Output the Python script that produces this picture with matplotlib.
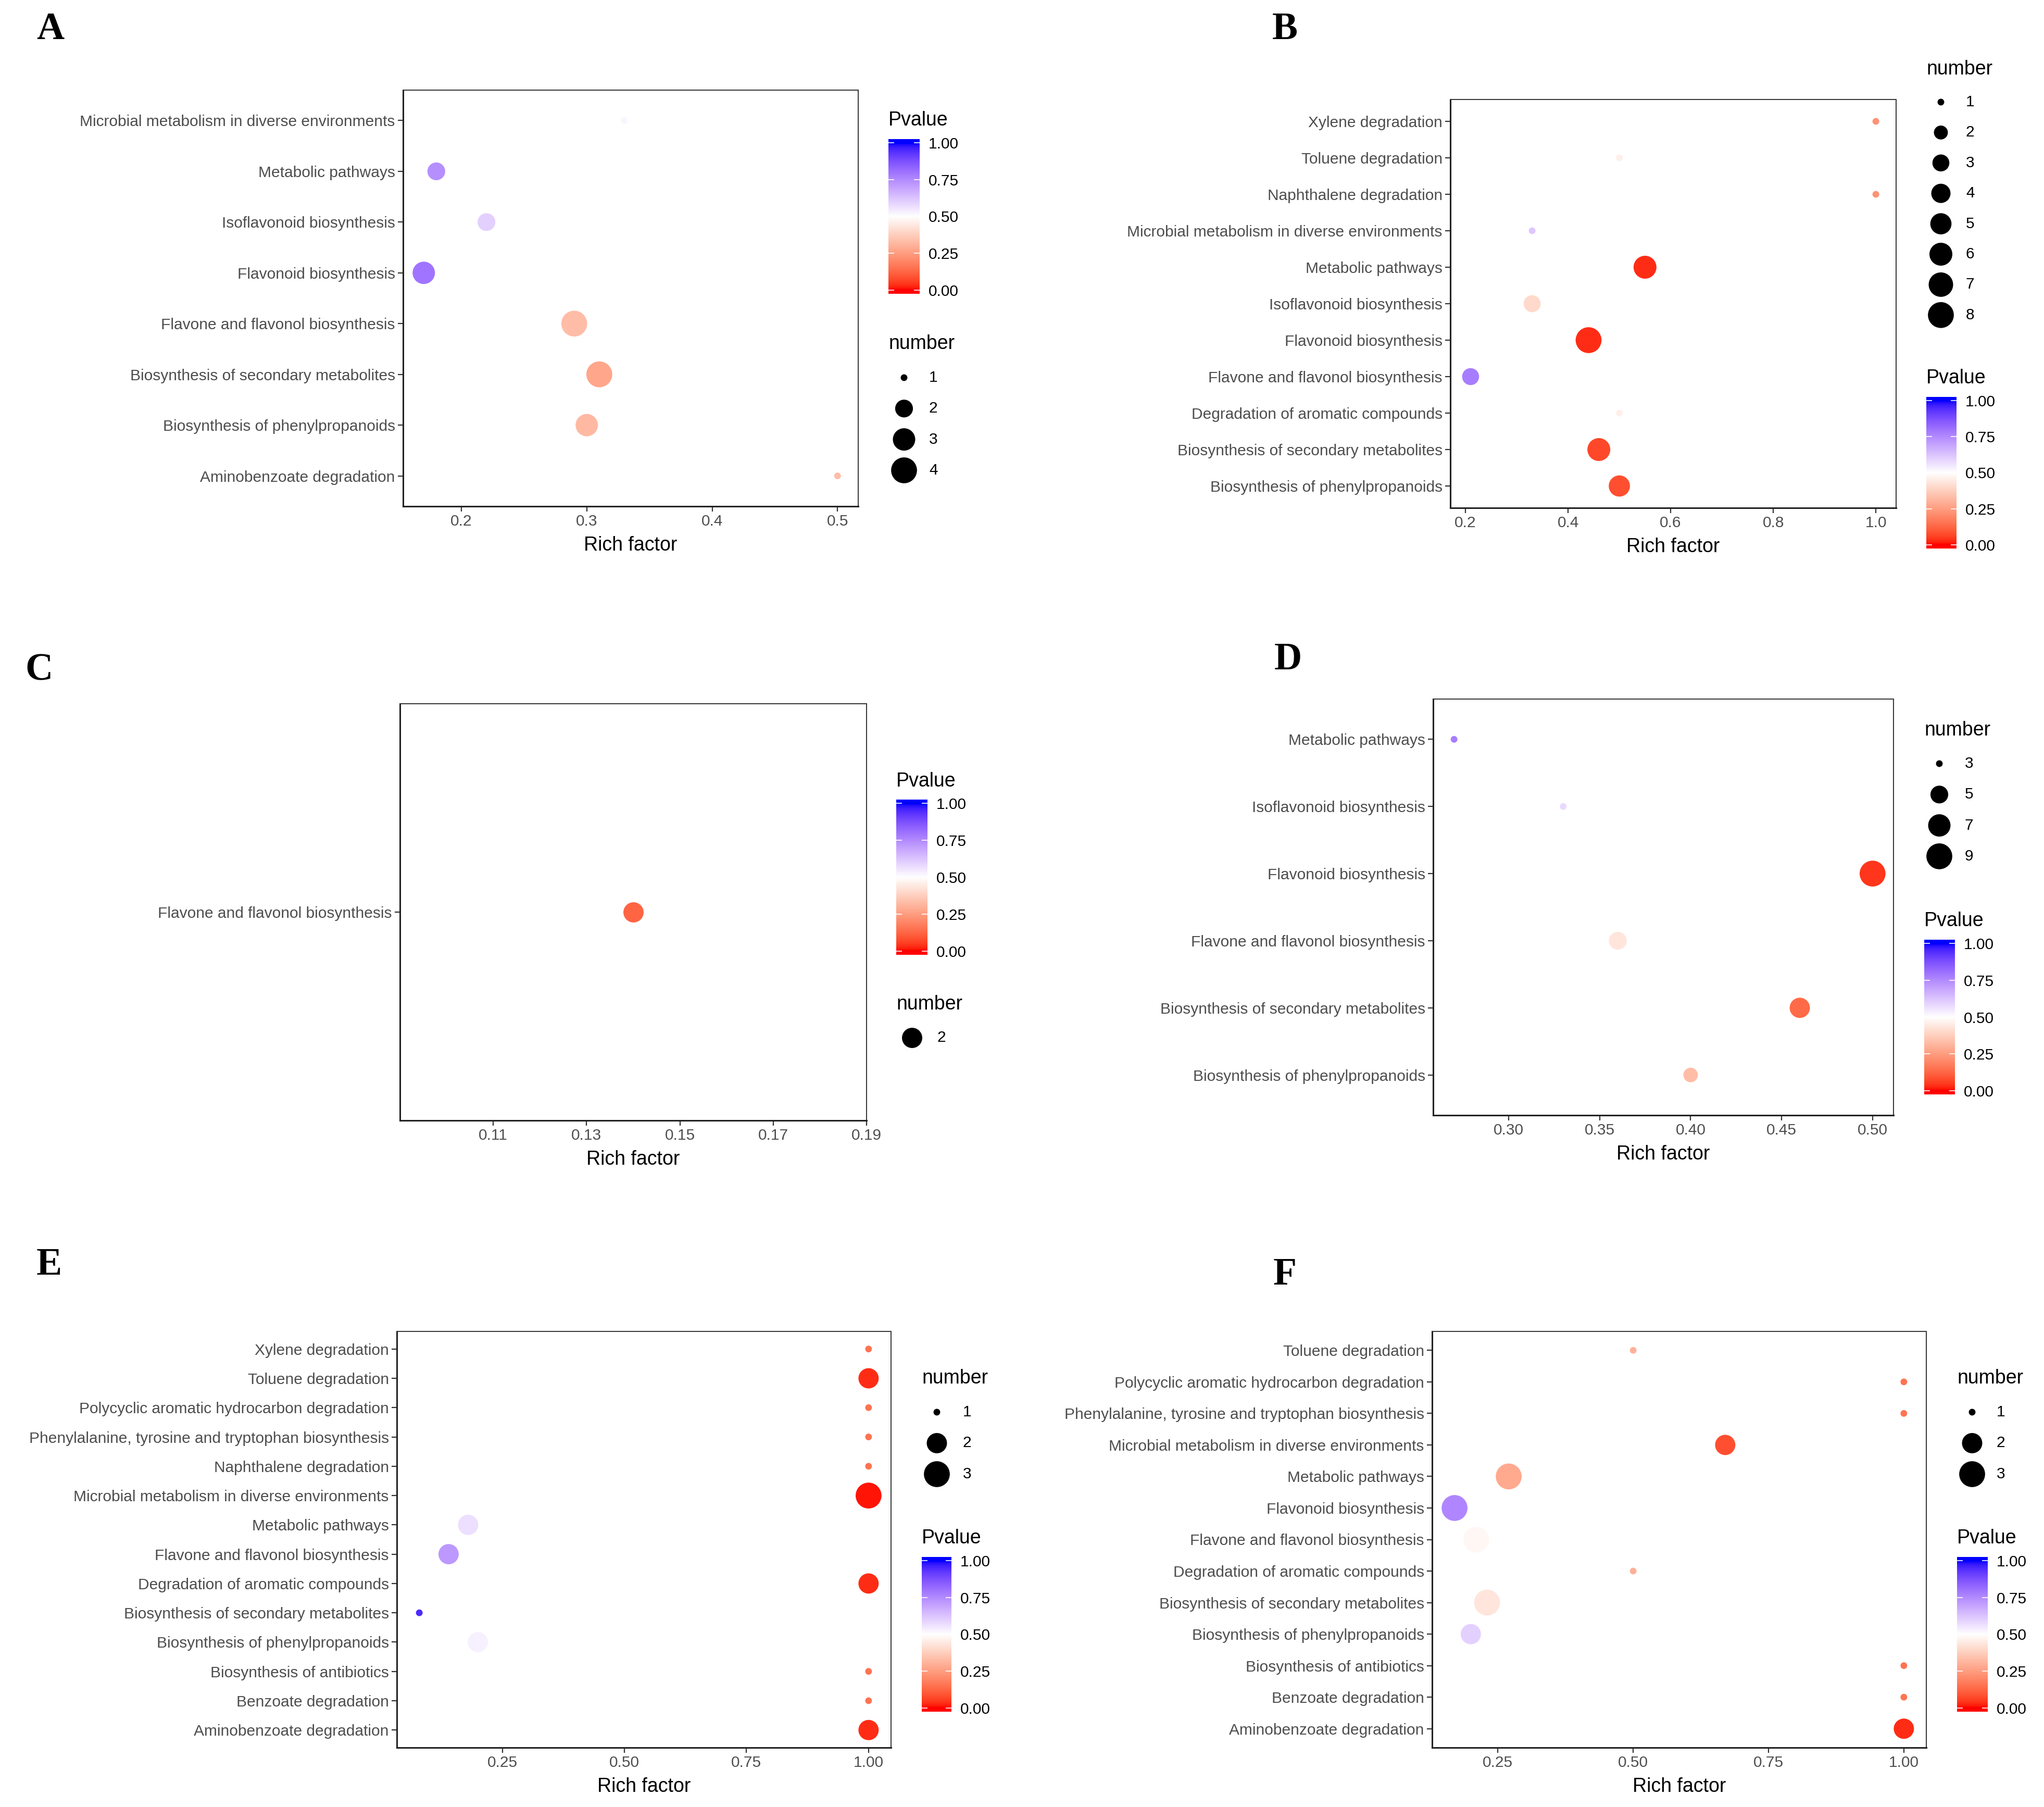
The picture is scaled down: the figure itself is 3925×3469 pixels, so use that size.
import numpy as np
import matplotlib
matplotlib.use("Agg")
import matplotlib.pyplot as plt
from matplotlib.colors import ListedColormap, Normalize

plt.rcParams['font.family'] = ['Liberation Sans', 'DejaVu Sans']

# ---------------- data ----------------
a_terms = ["Microbial metabolism in diverse environments", "Metabolic pathways",
           "Isoflavonoid biosynthesis", "Flavonoid biosynthesis",
           "Flavone and flavonol biosynthesis", "Biosynthesis of secondary metabolites",
           "Biosynthesis of phenylpropanoids", "Aminobenzoate degradation"]
a_rich = [0.33, 0.18, 0.22, 0.17, 0.29, 0.31, 0.30, 0.50]
a_pval = [0.52, 0.74, 0.60, 0.80, 0.33, 0.27, 0.32, 0.33]
a_num = [1, 2, 2, 3, 4, 4, 3, 1]
a_xticks = [0.2, 0.3, 0.4, 0.5]
a_xticklabels = ["0.2", "0.3", "0.4", "0.5"]
a_num_breaks = [1, 2, 3, 4]

b_terms = ["Xylene degradation", "Toluene degradation", "Naphthalene degradation",
           "Microbial metabolism in diverse environments", "Metabolic pathways",
           "Isoflavonoid biosynthesis", "Flavonoid biosynthesis",
           "Flavone and flavonol biosynthesis", "Degradation of aromatic compounds",
           "Biosynthesis of secondary metabolites", "Biosynthesis of phenylpropanoids"]
b_rich = [1.00, 0.50, 1.00, 0.33, 0.55, 0.33, 0.44, 0.21, 0.50, 0.46, 0.50]
b_pval = [0.22, 0.46, 0.22, 0.62, 0.03, 0.40, 0.03, 0.78, 0.46, 0.07, 0.08]
b_num = [1, 1, 1, 1, 6, 3, 8, 3, 1, 6, 5]
b_xticks = [0.2, 0.4, 0.6, 0.8, 1.0]
b_xticklabels = ["0.2", "0.4", "0.6", "0.8", "1.0"]
b_num_breaks = [1, 2, 3, 4, 5, 6, 7, 8]

c_terms = ["Flavone and flavonol biosynthesis"]
c_rich = [0.14]
c_pval = [0.12]
c_num = [2]
c_xlim = (0.09, 0.19)
c_xticks = [0.11, 0.13, 0.15, 0.17, 0.19]
c_xticklabels = ["0.11", "0.13", "0.15", "0.17", "0.19"]
c_num_breaks = [2]

d_terms = ["Metabolic pathways", "Isoflavonoid biosynthesis", "Flavonoid biosynthesis",
           "Flavone and flavonol biosynthesis", "Biosynthesis of secondary metabolites",
           "Biosynthesis of phenylpropanoids"]
d_rich = [0.27, 0.33, 0.50, 0.36, 0.46, 0.40]
d_pval = [0.78, 0.58, 0.04, 0.43, 0.13, 0.33]
d_num = [3, 3, 9, 5, 6, 4]
d_xticks = [0.30, 0.35, 0.40, 0.45, 0.50]
d_xticklabels = ["0.30", "0.35", "0.40", "0.45", "0.50"]
d_num_breaks = [3, 5, 7, 9]

e_terms = ["Xylene degradation", "Toluene degradation",
           "Polycyclic aromatic hydrocarbon degradation",
           "Phenylalanine, tyrosine and tryptophan biosynthesis", "Naphthalene degradation",
           "Microbial metabolism in diverse environments", "Metabolic pathways",
           "Flavone and flavonol biosynthesis", "Degradation of aromatic compounds",
           "Biosynthesis of secondary metabolites", "Biosynthesis of phenylpropanoids",
           "Biosynthesis of antibiotics", "Benzoate degradation", "Aminobenzoate degradation"]
e_rich = [1.00, 1.00, 1.00, 1.00, 1.00, 1.00, 0.18, 0.14, 1.00, 0.08, 0.20, 1.00, 1.00, 1.00]
e_pval = [0.15, 0.03, 0.15, 0.15, 0.15, 0.01, 0.57, 0.72, 0.03, 0.95, 0.53, 0.15, 0.15, 0.03]
e_num = [1, 2, 1, 1, 1, 3, 2, 2, 2, 1, 2, 1, 1, 2]
e_xticks = [0.25, 0.50, 0.75, 1.00]
e_xticklabels = ["0.25", "0.50", "0.75", "1.00"]
e_num_breaks = [1, 2, 3]

f_terms = ["Toluene degradation", "Polycyclic aromatic hydrocarbon degradation",
           "Phenylalanine, tyrosine and tryptophan biosynthesis",
           "Microbial metabolism in diverse environments", "Metabolic pathways",
           "Flavonoid biosynthesis", "Flavone and flavonol biosynthesis",
           "Degradation of aromatic compounds", "Biosynthesis of secondary metabolites",
           "Biosynthesis of phenylpropanoids", "Biosynthesis of antibiotics",
           "Benzoate degradation", "Aminobenzoate degradation"]
f_rich = [0.50, 1.00, 1.00, 0.67, 0.27, 0.17, 0.21, 0.50, 0.23, 0.20, 1.00, 1.00, 1.00]
f_pval = [0.30, 0.15, 0.15, 0.08, 0.28, 0.76, 0.48, 0.30, 0.43, 0.60, 0.15, 0.15, 0.03]
f_num = [1, 1, 1, 2, 3, 3, 3, 1, 3, 2, 1, 1, 2]
f_xticks = [0.25, 0.50, 0.75, 1.00]
f_xticklabels = ["0.25", "0.50", "0.75", "1.00"]
f_num_breaks = [1, 2, 3]

pval_breaks = [0.0, 0.25, 0.5, 0.75, 1.0]
pval_labels = ["0.00", "0.25", "0.50", "0.75", "1.00"]
panel_letters = ["A", "B", "C", "D", "E", "F"]

# ---------------- style / layout ----------------
W, H = 3925, 3469
DPI = 100
TICK_FS = 21.5
TITLE_FS = 27
TEXT_GREY = "#4D4D4D"


# CIELAB interpolated red-white-blue (like ggplot2 gradient2)
def _srgb_to_lab(rgb):
    rgb = np.asarray(rgb, float)
    lin = np.where(rgb <= 0.04045, rgb / 12.92, ((rgb + 0.055) / 1.055) ** 2.4)
    M = np.array([[0.4124564, 0.3575761, 0.1804375],
                  [0.2126729, 0.7151522, 0.0721750],
                  [0.0193339, 0.1191920, 0.9503041]])
    xyz = M @ lin / np.array([0.95047, 1.0, 1.08883])
    f = np.where(xyz > 0.008856, np.cbrt(xyz), 7.787 * xyz + 16 / 116)
    return np.array([116 * f[1] - 16, 500 * (f[0] - f[1]), 200 * (f[1] - f[2])])


def _lab_to_srgb(lab):
    L, a, b = lab
    fy = (L + 16) / 116
    fx = fy + a / 500
    fz = fy - b / 200
    f = np.array([fx, fy, fz])
    xyz = np.where(f ** 3 > 0.008856, f ** 3, (f - 16 / 116) / 7.787)
    xyz = xyz * np.array([0.95047, 1.0, 1.08883])
    Minv = np.array([[3.2404542, -1.5371385, -0.4985314],
                     [-0.9692660, 1.8760108, 0.0415560],
                     [0.0556434, -0.2040259, 1.0572252]])
    lin = np.clip(Minv @ xyz, 0, 1)
    srgb = np.where(lin <= 0.0031308, 12.92 * lin, 1.055 * lin ** (1 / 2.4) - 0.055)
    return np.clip(srgb, 0, 1)


lab_lo = _srgb_to_lab([1, 0, 0])
lab_mid = _srgb_to_lab([1, 1, 1])
lab_hi = _srgb_to_lab([0, 0, 1])
cols = []
for t in np.linspace(0, 1, 256):
    if t <= 0.5:
        lab = lab_lo + (lab_mid - lab_lo) * (t / 0.5)
    else:
        lab = lab_mid + (lab_hi - lab_mid) * ((t - 0.5) / 0.5)
    cols.append(_lab_to_srgb(lab))
cmap = ListedColormap(cols)
norm = Normalize(0, 1)


def diam_pt(v, vmin, vmax):
    v = np.asarray(v, float)
    if vmax == vmin:
        r = np.full(v.shape, 0.5)
    else:
        r = (v - vmin) / (vmax - vmin)
    size = 1 + (4.8 - 1) * np.sqrt(r)
    return (size * 2.845 + 0.945) * 2.45


def rect(l, t, r, b):
    return [l / W, 1 - b / H, (r - l) / W, (b - t) / H]


axes_px = [(774, 173, 1648, 972), (2785, 191, 3641, 975), (768, 1351, 1664, 2151),
           (2752, 1342, 3636, 2141), (762, 2556, 1711, 3355), (2750, 2556, 3699, 3355)]
letter_px = [(97, 57), (2467, 57), (75, 1287), (2473, 1267), (94, 2429), (2467, 2448)]
# legend layout: (ptitle_xy, cbar_rect, ntitle_xy, entries_y0, step, entry_cx, label_x)
legend_px = [
    ((1706, 231), (1706, 267, 1766, 564), (1706, 660), 725, 59.3, 1736, 1784),
    ((3699, 726), (3699, 762, 3757, 1053), (3699, 133), 196, 58.4, 3727, 3775),
    ((1721, 1500), (1721, 1535, 1781, 1833), (1721, 1928), 1992, 59.5, 1751, 1800),
    ((3695, 1768), (3695, 1804, 3754, 2101), (3695, 1402), 1466, 59.3, 3724, 3773),
    ((1770, 2953), (1770, 2989, 1827, 3286), (1770, 2646), 2711, 59.5, 1799, 1849),
    ((3758, 2953), (3758, 2989, 3817, 3286), (3758, 2646), 2711, 59.5, 3787, 3834),
]

panels = [
    (a_terms, a_rich, a_pval, a_num, a_xticks, a_xticklabels, None, a_num_breaks),
    (b_terms, b_rich, b_pval, b_num, b_xticks, b_xticklabels, None, b_num_breaks),
    (c_terms, c_rich, c_pval, c_num, c_xticks, c_xticklabels, c_xlim, c_num_breaks),
    (d_terms, d_rich, d_pval, d_num, d_xticks, d_xticklabels, None, d_num_breaks),
    (e_terms, e_rich, e_pval, e_num, e_xticks, e_xticklabels, None, e_num_breaks),
    (f_terms, f_rich, f_pval, f_num, f_xticks, f_xticklabels, None, f_num_breaks),
]

fig = plt.figure(figsize=(W / DPI, H / DPI), dpi=DPI)
fig.patch.set_facecolor("white")

overlay = fig.add_axes([0, 0, 1, 1], zorder=10)
overlay.set_xlim(0, W)
overlay.set_ylim(H, 0)
overlay.axis("off")
overlay.patch.set_alpha(0)

# colour bar spans 20 bins; breaks sit at the outer bin centres
cb_ext = 0.5 / 19
cb_lo, cb_hi = 0 - cb_ext, 1 + cb_ext
cb_grad = np.clip(np.linspace(cb_lo, cb_hi, 600), 0, 1)[:, None]

for i, (terms, rich, pval, num, xt, xtl, xlim, nbreaks) in enumerate(panels):
    ax = fig.add_axes(rect(*axes_px[i]))
    n = len(terms)
    y = np.arange(n)[::-1] + 1
    vmin, vmax = min(num), max(num)
    d = diam_pt(num, vmin, vmax)
    ax.scatter(rich, y, s=d ** 2, c=cmap(norm(np.asarray(pval))), linewidths=0, zorder=3)
    ax.set_ylim(0.4, n + 0.6)
    if xlim is None:
        lo, hi = min(rich), max(rich)
        pad = 0.05 * (hi - lo)
        xlim = (lo - pad, hi + pad)
    ax.set_xlim(xlim)
    ax.set_yticks(y)
    ax.set_yticklabels(terms)
    ax.set_xticks(xt)
    ax.set_xticklabels(xtl)
    ax.tick_params(axis="both", length=7, width=1.6, color="#333333",
                   labelsize=TICK_FS, labelcolor=TEXT_GREY, pad=4)
    ax.set_xlabel("Rich factor", fontsize=TITLE_FS, color="black", labelpad=10)
    for side in ["top", "right"]:
        ax.spines[side].set_linewidth(1.4)
        ax.spines[side].set_color("#333333")
    for side in ["left", "bottom"]:
        ax.spines[side].set_linewidth(2.2)
        ax.spines[side].set_color("#222222")

    # panel letter
    lx, ly = letter_px[i]
    overlay.text(lx, ly, panel_letters[i], fontsize=53, fontweight="bold",
                 family=["Liberation Serif", "DejaVu Serif"], ha="center", va="center")

    # colour legend
    ptitle, cb_r, ntitle, ey0, estep, ecx, elx = legend_px[i]
    overlay.text(ptitle[0], ptitle[1], "Pvalue", fontsize=TITLE_FS, ha="left", va="center")
    cax = fig.add_axes(rect(*cb_r))
    cax.imshow(cb_grad, origin="lower", extent=[0, 1, cb_lo, cb_hi], aspect="auto",
               cmap=cmap, norm=norm, interpolation="bilinear")
    cax.set_xlim(0, 1)
    cax.set_ylim(cb_lo, cb_hi)
    cax.set_xticks([])
    cax.set_yticks(pval_breaks)
    cax.set_yticklabels(pval_labels)
    cax.yaxis.set_ticks_position("both")
    cax.yaxis.set_label_position("right")
    cax.tick_params(axis="y", direction="in", length=8, width=1.2, color="white",
                    left=True, right=True, labelleft=False, labelright=True,
                    labelsize=TICK_FS, labelcolor="black", pad=12)
    for s in cax.spines.values():
        s.set_visible(False)

    # size legend
    overlay.text(ntitle[0], ntitle[1], "number", fontsize=TITLE_FS, ha="left", va="center")
    ld = diam_pt(nbreaks, vmin, vmax)
    ey = ey0 + estep * np.arange(len(nbreaks))
    overlay.scatter(np.full(len(nbreaks), ecx), ey, s=ld ** 2, c="black", linewidths=0)
    for k, lab in enumerate(nbreaks):
        overlay.text(elx, ey[k], str(lab), fontsize=TICK_FS, ha="left", va="center")

fig.savefig("out.png", dpi=DPI, facecolor="white")
